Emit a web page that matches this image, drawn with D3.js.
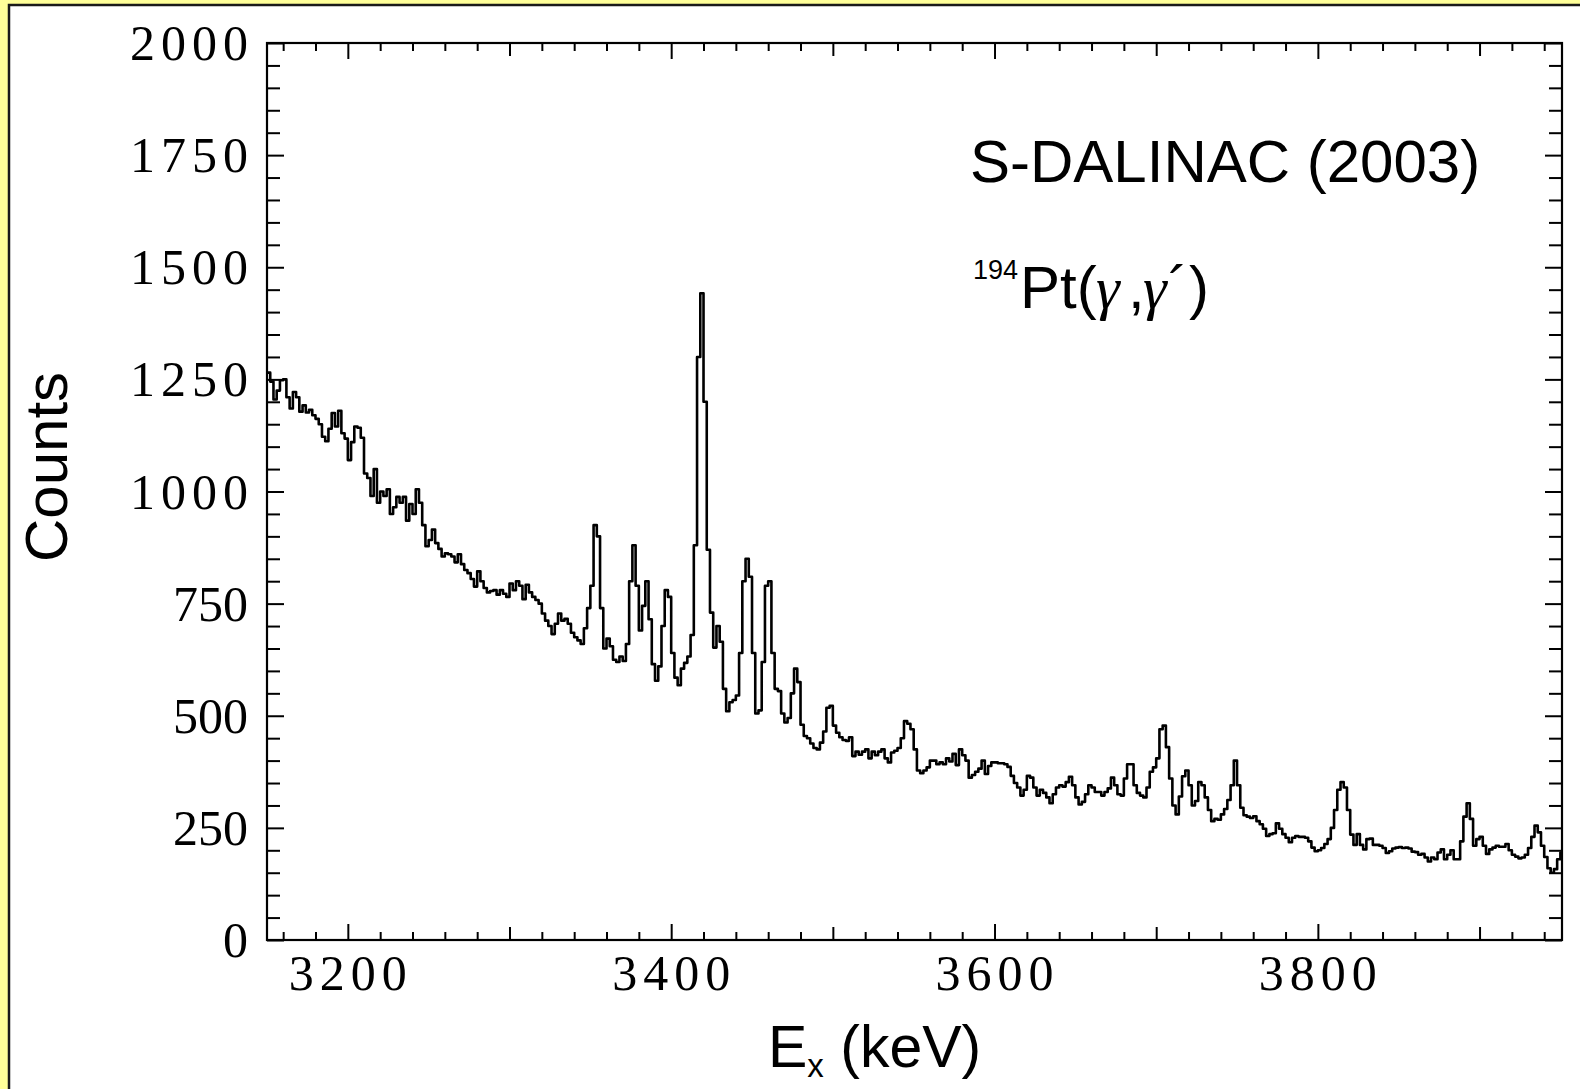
<!DOCTYPE html>
<html>
<head>
<meta charset="utf-8">
<script src="https://cdn.jsdelivr.net/npm/d3@7"></script>
<style>
  html, body { margin: 0; padding: 0; background: #ffff99; }
  svg { display: block; }
</style>
</head>
<body>
<script>
// ---- Data ----
const binStart = 3150;   // keV, first bin lower edge
const binWidth = 2;      // keV
const xDomain = [3150, 3951];
const yDomain = [0, 2000];
const xLabelTicks = [3200, 3400, 3600, 3800];
const yLabelTicks = [0, 250, 500, 750, 1000, 1250, 1500, 1750, 2000];
const counts = [
  1265,1245,1205,1225,1248,1250,1210,1185,1222,1210,
  1178,1192,1176,1182,1170,1162,1150,1122,1112,1140,
  1175,1145,1180,1130,1118,1070,1110,1145,1142,1120,
  1040,1030,990,1050,975,1000,990,1005,950,965,
  988,975,988,935,972,950,1005,975,925,878,
  892,915,885,872,855,862,860,855,842,860,
  838,825,818,805,788,822,800,785,775,778,
  780,770,780,772,765,795,780,800,790,760,
  792,775,765,758,750,728,712,700,682,705,
  728,712,716,705,685,675,668,660,695,740,
  790,925,900,740,650,672,655,625,620,632,
  622,660,800,880,790,690,745,800,715,615,
  578,610,700,780,765,640,585,568,605,618,
  632,680,880,1300,1442,1200,870,730,652,700,
  665,560,510,530,535,545,640,800,850,810,
  640,505,512,620,790,800,640,560,555,505,
  485,495,550,605,575,480,455,450,438,428,
  425,440,465,518,522,478,462,452,446,444,
  452,410,420,413,420,425,405,420,412,420,
  425,405,396,418,422,428,450,488,482,470,
  425,378,372,378,385,400,400,392,396,392,
  405,398,415,390,425,412,400,362,368,375,
  382,400,370,388,396,396,394,394,392,386,
  366,350,340,322,335,366,362,340,322,335,
  328,318,305,325,340,345,342,352,364,345,
  318,302,308,325,345,340,330,330,322,330,
  338,362,345,325,322,360,392,392,345,328,
  322,318,340,375,385,405,470,478,430,360,
  300,280,320,365,378,345,300,310,352,345,
  318,290,265,270,268,280,292,312,345,400,
  345,295,278,275,272,276,265,258,248,232,
  236,238,260,248,236,228,218,228,232,230,
  230,228,220,206,198,200,205,214,225,250,
  290,335,352,340,290,235,212,236,212,202,
  225,226,212,212,210,205,194,198,204,206,
  207,205,206,204,197,196,190,192,184,175,
  184,180,195,202,180,190,200,180,180,220,
  275,305,270,210,225,230,210,192,202,206,
  210,208,208,214,200,190,186,182,184,190,
  205,230,255,240,210,185,160,150,158,180,
  195
];

// ---- Layout ----
const W = 1580, H = 1089;
const plot = { left: 267, right: 1562, top: 43, bottom: 940 };

const svg = d3.select("body").append("svg")
  .attr("width", W).attr("height", H);

// outer yellow + white panel with dark border
svg.append("rect").attr("x", 0).attr("y", 0).attr("width", W).attr("height", H)
  .attr("fill", "#ffff99");
svg.append("rect").attr("x", 9).attr("y", 5).attr("width", W + 50).attr("height", H + 50)
  .attr("fill", "#ffffff").attr("stroke", "#1a1a1a").attr("stroke-width", 2.5);

const x = d3.scaleLinear().domain(xDomain).range([plot.left, plot.right]);
const y = d3.scaleLinear().domain(yDomain).range([plot.bottom, plot.top]);

// ---- Spectrum (step histogram) ----
const pts = counts.map((c, i) => [binStart + i * binWidth, c]);
pts.push([xDomain[1], counts[counts.length - 1]]);

svg.append("defs").append("clipPath").attr("id", "clip")
  .append("rect").attr("x", plot.left).attr("y", plot.top)
  .attr("width", plot.right - plot.left).attr("height", plot.bottom - plot.top);

const line = d3.line().x(d => x(d[0])).y(d => y(d[1])).curve(d3.curveStepAfter);
svg.append("path").datum(pts)
  .attr("clip-path", "url(#clip)")
  .attr("d", line)
  .attr("fill", "none").attr("stroke", "#000").attr("stroke-width", 2.6)
  .attr("stroke-linejoin", "round");

// ---- Ticks ----
const xMinor = d3.range(3160, 3951, 20);
const yMinor = d3.range(0, 2001, 50);
const xLen = d => (d % 200 === 0 ? 16 : (d % 100 === 0 ? 13 : 8));
const yLen = d => (d % 250 === 0 ? 17 : 13);

function styleAxis(g) {
  g.select(".domain").remove();
  g.selectAll(".tick line").attr("stroke", "#000").attr("stroke-width", 2);
  g.selectAll(".tick text").remove();
}

const gB = svg.append("g").attr("transform", `translate(0,${plot.bottom})`)
  .call(d3.axisBottom(x).tickValues(xMinor).tickSize(-8));
styleAxis(gB);
gB.selectAll(".tick line").attr("y2", d => -xLen(d));

const gT = svg.append("g").attr("transform", `translate(0,${plot.top})`)
  .call(d3.axisTop(x).tickValues(xMinor).tickSize(-8));
styleAxis(gT);
gT.selectAll(".tick line").attr("y2", d => xLen(d));

const gL = svg.append("g").attr("transform", `translate(${plot.left},0)`)
  .call(d3.axisLeft(y).tickValues(yMinor).tickSize(-13));
styleAxis(gL);
gL.selectAll(".tick line").attr("x2", d => yLen(d));

const gR = svg.append("g").attr("transform", `translate(${plot.right},0)`)
  .call(d3.axisRight(y).tickValues(yMinor).tickSize(-13));
styleAxis(gR);
gR.selectAll(".tick line").attr("x2", d => -yLen(d));

// frame
svg.append("rect").attr("x", plot.left).attr("y", plot.top)
  .attr("width", plot.right - plot.left).attr("height", plot.bottom - plot.top)
  .attr("fill", "none").attr("stroke", "#000").attr("stroke-width", 2.2);

// ---- Tick labels (serif, TeX-like) ----
const serif = "'Liberation Serif', 'DejaVu Serif', serif";
const sans = "'Liberation Sans', Arial, Helvetica, sans-serif";

svg.append("g").selectAll("text").data(yLabelTicks).join("text")
  .attr("x", 248).attr("y", d => y(d) + 17)
  .attr("text-anchor", "end")
  .attr("font-family", serif).attr("font-size", 50)
  .attr("fill", "#000")
  .each(function(d) {
    if (String(d).length === 4) d3.select(this).attr("textLength", 118).attr("lengthAdjust", "spacing");
  })
  .text(d => d);

svg.append("g").selectAll("text").data(xLabelTicks).join("text")
  .attr("x", d => x(d)).attr("y", 990)
  .attr("text-anchor", "middle")
  .attr("font-family", serif).attr("font-size", 50)
  .attr("fill", "#000")
  .attr("textLength", 118).attr("lengthAdjust", "spacing")
  .text(d => d);

// ---- Axis titles ----
svg.append("text")
  .attr("transform", "translate(67,467) rotate(-90)")
  .attr("text-anchor", "middle")
  .attr("font-family", sans).attr("font-size", 60).attr("fill", "#000")
  .text("Counts");

const xt = svg.append("text").attr("x", 768).attr("y", 1067)
  .attr("font-family", sans).attr("font-size", 59).attr("fill", "#000");
xt.append("tspan").text("E");
xt.append("tspan").attr("font-size", 33).attr("dy", 10).text("x");
xt.append("tspan").attr("dy", -10).text(" (keV)");

// ---- Annotations ----
svg.append("text").attr("x", 970).attr("y", 182)
  .attr("font-family", sans).attr("font-size", 60).attr("fill", "#000")
  .text("S-DALINAC (2003)");

svg.append("text").attr("x", 973).attr("y", 279)
  .attr("font-family", sans).attr("font-size", 27).attr("fill", "#000").text("194");

const rt = svg.append("text").attr("x", 1020).attr("y", 308)
  .attr("font-size", 60).attr("fill", "#000").attr("font-family", sans);
rt.append("tspan").text("Pt(");
rt.append("tspan").attr("x", 1096).attr("font-family", serif).attr("font-style", "italic").text("γ");
rt.append("tspan").attr("x", 1128).text(",");
rt.append("tspan").attr("x", 1143).attr("font-family", serif).attr("font-style", "italic").text("γ");
rt.append("tspan").attr("x", 1168).text("´");
rt.append("tspan").attr("x", 1189).text(")");
</script>
</body>
</html>
